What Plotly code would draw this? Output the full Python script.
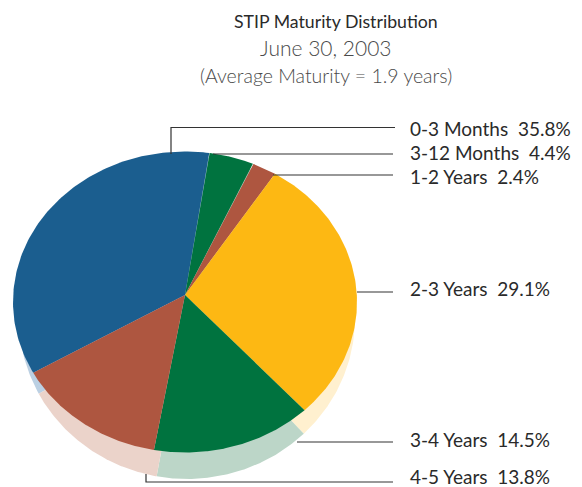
import numpy as np
import plotly.graph_objects as go

categories = ["0-3 Months", "3-12 Months", "1-2 Years", "2-3 Years", "3-4 Years", "4-5 Years"]
values = [35.8, 4.4, 2.4, 29.1, 14.5, 13.8]
colors = ["#1B5E8F", "#00733F", "#AE5640", "#FDB813", "#00733F", "#AE5640"]
side_colors = ["#BBD0E3", "#BCD6C8", "#EBD3CA", "#FFF0CF", "#BCD6C8", "#EBD3CA"]
title_lines = ["STIP Maturity Distribution", "June 30, 2003", "(Average Maturity = 1.9 years)"]

W, H = 582, 487
AX, AY = 185, 295      # apex of the pie
CX, CY = 185, 302      # centre of the rim ellipse
RX, RY = 172, 150.5
SCX, SCY = 187, 318    # centre of the paler side ellipse
SRX, SRY = 168, 161
START_DEG = 8.5 - values[0] * 3.6   # blue slice ends at 8.5 deg, clockwise


def rim(t):
    dx, dy = RX * np.sin(t), -RY * np.cos(t)
    ox, oy = AX - CX, AY - CY
    a = dx**2 / RX**2 + dy**2 / RY**2
    b = 2 * (ox * dx / RX**2 + oy * dy / RY**2)
    c = ox**2 / RX**2 + oy**2 / RY**2 - 1
    s = (-b + np.sqrt(b**2 - 4 * a * c)) / (2 * a)
    return AX + s * dx, AY + s * dy


fig = go.Figure()
edges = START_DEG + np.concatenate([[0], np.cumsum(values)]) * 3.6
wedges = []
for i in range(len(values)):
    t = np.radians(np.linspace(edges[i], edges[i + 1], 120))
    px, py = rim(t)
    wedges.append((np.r_[AX, px, AX], np.r_[AY, py, AY]))

for i, (x, y) in enumerate(wedges):
    fig.add_trace(go.Scatter(
        x=(x - CX) * SRX / RX + SCX, y=(y - CY) * SRY / RY + SCY,
        mode="lines", fill="toself", fillcolor=side_colors[i],
        line=dict(width=0, color=side_colors[i]), hoverinfo="skip", showlegend=False,
        name=categories[i] + " side"))
for i, (x, y) in enumerate(wedges):
    fig.add_trace(go.Scatter(
        x=x, y=y, mode="lines", fill="toself", fillcolor=colors[i],
        line=dict(width=0, color=colors[i]), hoverinfo="skip", showlegend=False,
        name=categories[i]))

leaders = [
    [(171, 154), (171, 127.5), (395, 127.5)],
    [(213, 154), (393, 154)],
    [(273, 175), (393, 175)],
    [(357, 292), (393, 292)],
    [(297, 442), (393, 442)],
    [(146, 474), (146, 482), (393, 482)],
]
for pts in leaders:
    path = "M " + " L ".join(f"{x} {y}" for x, y in pts)
    fig.add_shape(type="path", path=path, line=dict(color="#333333", width=1.2), layer="above")

label_y = [128, 152, 176, 288, 439, 476]
for c, v, y in zip(categories, values, label_y):
    fig.add_annotation(x=408, y=y, text=f"{c}\u00a0\u00a0{v}%", showarrow=False, xanchor="left",
                       yanchor="middle", font=dict(family="Lato", size=19, color="#2a2a2a"))

fig.add_annotation(x=336, y=21, text=title_lines[0], showarrow=False,
                   font=dict(family="Lato", size=17.7, color="#2a2a2a"))
fig.add_annotation(x=326, y=47, text=title_lines[1], showarrow=False,
                   font=dict(family="Lato", size=21, color="#4a4a4a", weight=300))
fig.add_annotation(x=326, y=75, text=title_lines[2], showarrow=False,
                   font=dict(family="Lato", size=19.5, color="#4a4a4a", weight=300))

fig.update_layout(
    width=W, height=H, margin=dict(l=0, r=0, t=0, b=0),
    paper_bgcolor="white", plot_bgcolor="white", showlegend=False,
    xaxis=dict(range=[0, W], visible=False, fixedrange=True),
    yaxis=dict(range=[H, 0], visible=False, fixedrange=True),
)
fig.write_html("out.html", config={"displayModeBar": False},
               post_script="document.body.style.margin='0';document.body.style.overflow='hidden';")
